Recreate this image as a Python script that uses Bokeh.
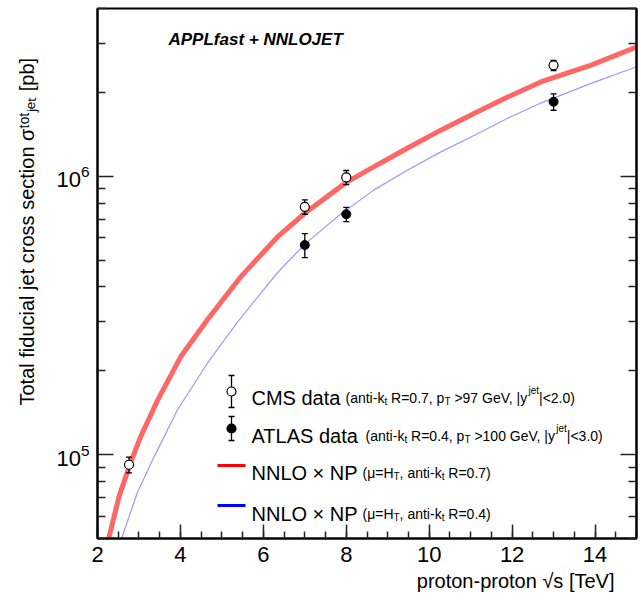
import math
from bokeh.plotting import figure
from bokeh.models import Label, LogAxis, FixedTicker, CustomJSTickFormatter, LogTickFormatter, Title
from bokeh.embed import file_html
from bokeh.resources import INLINE

# ---------------- data ----------------
cms_sqrts = [2.76, 7.0, 8.0, 13.0]
cms_xsec = [9.2e4, 7.76e5, 9.9e5, 2.50e6]
cms_err = [6.0e3, 4.6e4, 5.8e4, 1.05e5]

atlas_sqrts = [7.0, 8.0, 13.0]
atlas_xsec = [5.66e5, 7.30e5, 1.85e6]
atlas_err = [5.6e4, 4.3e4, 1.25e5]

nnlo_r07_sqrts = [2.27, 2.52, 2.78, 3.04, 3.45, 4.01, 4.65, 5.46, 6.34, 7.0,
                  8.0, 8.66, 9.47, 10.27, 11.08, 11.88, 12.69, 13.89, 15.0]
nnlo_r07_xsec = [5.0e4, 7.08e4, 9.2e4, 1.16e5, 1.57e5, 2.25e5, 3.05e5, 4.36e5, 6.05e5, 7.36e5,
                 9.5e5, 1.08e6, 1.26e6, 1.46e6, 1.68e6, 1.92e6, 2.18e6, 2.50e6, 2.91e6]

nnlo_r04_sqrts = [2.58, 2.96, 3.37, 3.93, 4.65, 5.38, 6.34, 7.0, 7.83, 8.66,
                  9.47, 10.27, 11.08, 11.88, 12.69, 13.89, 15.0]
nnlo_r04_xsec = [5.0e4, 7.3e4, 9.86e4, 1.45e5, 2.13e5, 3.0e5, 4.5e5, 5.7e5, 7.24e5, 8.91e5,
                 1.05e6, 1.22e6, 1.40e6, 1.61e6, 1.83e6, 2.15e6, 2.47e6]

x_major_ticks = [2, 4, 6, 8, 10, 12, 14]
y_major_ticks = [1e5, 1e6]

X0, X1 = 2, 15
Y0, Y1 = 5e4, 4e6

FONT = "Liberation Sans"

# ---------------- figure ----------------
W, H = 640, 602
BL, BR, BT, BB = 97, 4, 8, 64
p = figure(width=W, height=H, x_range=(X0, X1), y_range=(Y0, Y1), y_axis_type="log",
           output_backend="svg", toolbar_location=None,
           min_border_left=BL, min_border_right=BR, min_border_top=BT, min_border_bottom=BB)
p.grid.visible = False
p.outline_line_color = "black"
p.outline_line_width = 2
p.background_fill_color = "white"
p.border_fill_color = "white"

# page coordinates of the frame
FL, FR = BL, W - BR
FT, FB = BT, H - BB
LY0, LY1 = math.log10(Y0), math.log10(Y1)

def px2x(px):
    return X0 + (px - FL) / (FR - FL) * (X1 - X0)

def py2y(py):
    return 10 ** (LY1 - (py - FT) / (FB - FT) * (LY1 - LY0))

# x axis
xminor = [X0 + 0.5 * i for i in range(int((X1 - X0) / 0.5) + 1)]
p.xaxis.ticker = FixedTicker(ticks=x_major_ticks, minor_ticks=xminor)
for ax in p.xaxis:
    ax.axis_line_width = 2
    ax.axis_line_color = "black"
    ax.major_tick_in = 14
    ax.major_tick_out = 0
    ax.minor_tick_in = 7
    ax.minor_tick_out = 0
    ax.major_tick_line_width = 1.5
    ax.minor_tick_line_width = 1.5
    ax.major_tick_line_color = "#222222"
    ax.minor_tick_line_color = "#222222"
    ax.major_label_text_font = FONT
    ax.major_label_text_font_size = "22px"
    ax.major_label_text_color = "black"
    ax.major_label_standoff = 8

yminor = []
for dec in [1e4, 1e5, 1e6]:
    for m in range(2, 10):
        yminor.append(m * dec)

def style_y(ax):
    ax.ticker = FixedTicker(ticks=y_major_ticks, minor_ticks=yminor)
    ax.axis_line_width = 2
    ax.axis_line_color = "black"
    ax.major_tick_in = 16
    ax.major_tick_out = 0
    ax.minor_tick_in = 8
    ax.minor_tick_out = 0
    ax.major_tick_line_width = 1.5
    ax.minor_tick_line_width = 1.5
    ax.major_tick_line_color = "#222222"
    ax.minor_tick_line_color = "#222222"

for ax in p.yaxis:
    style_y(ax)
    ax.formatter = LogTickFormatter()
    ax.major_label_text_font = FONT
    ax.major_label_text_font_size = "22px"
    ax.major_label_text_color = "black"
    ax.major_label_standoff = 8

ry = LogAxis()
style_y(ry)
ry.formatter = CustomJSTickFormatter(code="return ''")
ry.major_label_standoff = 0
p.add_layout(ry, "right")

# axis titles (ROOT style: at the far end of each axis)
xt = Title(text="proton-proton √s [TeV]", align="right", offset=22, standoff=10,
           vertical_align="top", text_font=FONT, text_font_size="20px",
           text_font_style="normal", text_color="black")
p.add_layout(xt, "below")
yt = Title(text="Total fiducial jet cross section σᵗᵒᵗⱼₑₜ [pb]", align="left", offset=133,
           standoff=28, vertical_align="top", text_font=FONT, text_font_size="20px",
           text_font_style="normal", text_color="black")
p.add_layout(yt, "left")

# ---------------- curves ----------------
p.line(nnlo_r07_sqrts, nnlo_r07_xsec, line_color="#ff0000", line_alpha=0.6, line_width=5)
p.line(nnlo_r04_sqrts, nnlo_r04_xsec, line_color="#0000ff", line_alpha=0.4, line_width=1.2)

# ---------------- data points ----------------
def errbars(xs, ys, es):
    lo = [y - e for y, e in zip(ys, es)]
    hi = [y + e for y, e in zip(ys, es)]
    p.segment(x0=xs, y0=lo, x1=xs, y1=hi, line_color="black", line_width=1.3)
    p.scatter(xs, lo, marker="dash", size=6, line_color="black", line_width=1.3)
    p.scatter(xs, hi, marker="dash", size=6, line_color="black", line_width=1.3)

errbars(cms_sqrts, cms_xsec, cms_err)
errbars(atlas_sqrts, atlas_xsec, atlas_err)
p.scatter(cms_sqrts, cms_xsec, marker="circle", size=9, fill_color="white",
          line_color="black", line_width=1.2)
p.scatter(atlas_sqrts, atlas_xsec, marker="circle", size=9, fill_color="black",
          line_color="black")

# ---------------- text helpers (texts inside the frame) ----------------
CW = {' ': 278, '(': 333, ')': 333, 'a': 556, 'n': 556, 't': 278, 'i': 222, '-': 333,
      'k': 500, 'R': 722, '=': 584, '.': 278, ',': 278, 'p': 556, 'T': 611, '>': 584,
      '<': 584, 'G': 778, 'e': 556, 'V': 667, '|': 260, 'y': 500, 'j': 222, 'μ': 576,
      'H': 722, 'o': 556, 's': 500, 'c': 500, 'r': 333, 'l': 222, 'f': 278, 'u': 556,
      'd': 556, '[': 278, ']': 278, 'b': 556, 'C': 722, 'M': 833, 'S': 667,
      'A': 667, 'L': 556, 'N': 722, 'O': 778, 'P': 667, '×': 584}

def tw(s, size):
    return sum(CW.get(c, 556) for c in s) / 1000.0 * size

def label(px, py, text, size, align="left", style="normal"):
    p.add_layout(Label(x=px - FL, y=FB - py, x_units="screen", y_units="screen",
                       text=text, text_font=FONT, text_font_size=f"{size}px",
                       text_font_style=style, text_color="black", text_align=align,
                       text_baseline="alphabetic"))

def run(px, py, pieces):
    x = px
    for text, size, dy in pieces:
        stripped = text.lstrip(" ")
        x += tw(text[:len(text) - len(stripped)], size)
        label(x, py - dy, stripped, size)
        x += tw(stripped, size)

# title
label(168, 39, "APPLfast + NNLOJET", 17, style="bold italic")

# ---------------- legend ----------------
def leg_marker(px, py, half, filled):
    x = px2x(px)
    lo, hi, c = py2y(py + half), py2y(py - half), py2y(py)
    p.segment(x0=[x], y0=[lo], x1=[x], y1=[hi], line_color="black", line_width=1.3)
    p.scatter([x, x], [lo, hi], marker="dash", size=6, line_color="black", line_width=1.3)
    p.scatter([x], [c], marker="circle", size=9, fill_color="black" if filled else "white",
              line_color="black", line_width=1.2)

leg_marker(231, 391, 16, False)
leg_marker(231, 428, 12, True)
p.line([px2x(217), px2x(245)], [py2y(465), py2y(465)], line_color="#ff0000", line_width=3)
p.line([px2x(217), px2x(245)], [py2y(505), py2y(505)], line_color="#0000ff", line_width=3)

label(251, 397, "CMS data", 20)
run(345, 397, [("(anti-k", 14, 0), ("t", 10, -4), (" R=0.7, p", 14, 0), ("T", 10, -4),
               (" >97 GeV, |y", 14, 0), ("jet", 10, 7), ("|<2.0)", 14, 0)])
label(251, 435, "ATLAS data", 20)
run(365, 435, [("(anti-k", 14, 0), ("t", 10, -4), (" R=0.4, p", 14, 0), ("T", 10, -4),
               (" >100 GeV, |y", 14, 0), ("jet", 10, 7), ("|<3.0)", 14, 0)])
label(251, 472, "NNLO × NP", 20)
run(362, 472, [("(μ=H", 14, 0), ("T", 10, -4), (", anti-k", 14, 0), ("t", 10, -4),
               (" R=0.7)", 14, 0)])
label(251, 513, "NNLO × NP", 20)
run(362, 513, [("(μ=H", 14, 0), ("T", 10, -4), (", anti-k", 14, 0), ("t", 10, -4),
               (" R=0.4)", 14, 0)])

open("out.html", "w").write(file_html(p, INLINE))
